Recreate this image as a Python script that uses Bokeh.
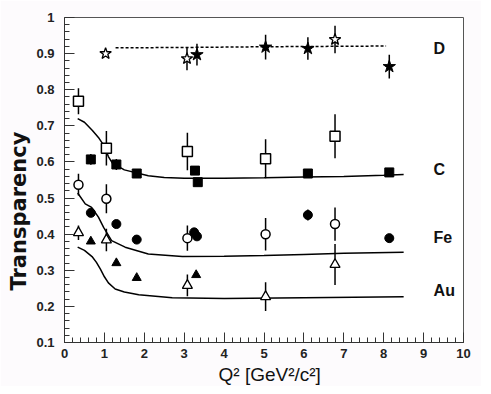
import numpy as np
from bokeh.plotting import figure
from bokeh.models import Label, FixedTicker, Title
from bokeh.embed import file_html
from bokeh.resources import INLINE

# ---- data ----
D_open_x = [1.03, 3.07, 6.78]
D_open_y = [0.900, 0.886, 0.939]
D_open_err = [0.0, 0.032, 0.038]
D_fill_x = [3.32, 5.04, 6.10, 8.14]
D_fill_y = [0.897, 0.918, 0.914, 0.864]
D_fill_err = [0.030, 0.034, 0.031, 0.033]
D_curve_x = [1.28, 3.0, 5.0, 8.06]
D_curve_y = [0.916, 0.917, 0.919, 0.921]

C_open_x = [0.35, 1.05, 3.08, 5.04, 6.78]
C_open_y = [0.768, 0.638, 0.629, 0.609, 0.671]
C_open_err = [0.036, 0.048, 0.052, 0.054, 0.061]
C_fill_x = [0.66, 1.30, 1.81, 3.27, 3.34, 6.10, 8.14]
C_fill_y = [0.607, 0.593, 0.568, 0.576, 0.544, 0.568, 0.571]
C_fill_err = [0.015, 0.015, 0.012, 0.012, 0.010, 0.010, 0.010]
C_curve_x = [0.33, 0.5, 0.7, 0.85, 1.0, 1.1, 1.2, 1.5, 2.1, 2.5, 3.0, 4.0, 5.0, 6.0, 7.0, 8.0, 8.5]
C_curve_y = [0.720, 0.710, 0.687, 0.668, 0.643, 0.615, 0.597, 0.578, 0.562, 0.557, 0.555, 0.555, 0.556, 0.558, 0.560, 0.563, 0.565]

Fe_open_x = [0.35, 1.05, 3.08, 5.04, 6.78]
Fe_open_y = [0.537, 0.498, 0.389, 0.400, 0.428]
Fe_open_err = [0.030, 0.040, 0.035, 0.045, 0.046]
Fe_fill_x = [0.66, 1.30, 1.81, 3.25, 3.32, 6.10, 8.14]
Fe_fill_y = [0.459, 0.428, 0.385, 0.405, 0.394, 0.453, 0.389]
Fe_fill_err = [0.010, 0.010, 0.008, 0.010, 0.010, 0.015, 0.008]
Fe_curve_x = [0.33, 0.52, 0.68, 0.85, 0.98, 1.18, 1.52, 2.1, 2.95, 4.0, 5.0, 6.0, 7.0, 8.5]
Fe_curve_y = [0.514, 0.484, 0.474, 0.447, 0.419, 0.382, 0.364, 0.345, 0.338, 0.339, 0.341, 0.344, 0.347, 0.350]

Au_open_x = [0.35, 1.05, 3.08, 5.04, 6.78]
Au_open_y = [0.404, 0.384, 0.258, 0.227, 0.316]
Au_open_err = [0.020, 0.031, 0.030, 0.040, 0.057]
Au_fill_x = [0.66, 1.30, 1.81, 3.30]
Au_fill_y = [0.380, 0.320, 0.279, 0.287]
Au_curve_x = [0.33, 0.5, 0.69, 0.8, 0.9, 1.0, 1.1, 1.27, 1.5, 1.86, 2.7, 4.0, 6.0, 8.5]
Au_curve_y = [0.364, 0.355, 0.338, 0.322, 0.303, 0.282, 0.265, 0.248, 0.240, 0.232, 0.224, 0.222, 0.224, 0.227]

nucleus_labels = ["D", "C", "Fe", "Au"]
nucleus_label_y = [0.914, 0.580, 0.392, 0.244]

x_ticks = [0, 1, 2, 3, 4, 5, 6, 7, 8, 9, 10]
y_ticks = [0.1, 0.2, 0.3, 0.4, 0.5, 0.6, 0.7, 0.8, 0.9, 1.0]

FONT = "Liberation Sans"

p = figure(width=481, height=386, x_range=(0, 10), y_range=(0.1, 1.0),
           output_backend="svg", toolbar_location=None,
           min_border_left=64, min_border_right=18, min_border_top=17, min_border_bottom=44)
p.background_fill_color = "white"
p.border_fill_color = "#fdfbfd"
p.xgrid.visible = False
p.ygrid.visible = False
p.outline_line_color = "#555555"
p.outline_line_width = 1

for ax in (p.xaxis[0], p.yaxis[0]):
    ax.major_tick_in = 10
    ax.major_tick_out = 0
    ax.minor_tick_in = 5
    ax.minor_tick_out = 0
    ax.axis_line_color = "#333333"
    ax.major_tick_line_color = "#333333"
    ax.minor_tick_line_color = "#333333"
    ax.major_label_text_font = FONT
    ax.major_label_text_font_style = "bold"
    ax.major_label_text_font_size = "13px"
    ax.major_label_text_color = "#222222"

p.xaxis.ticker = FixedTicker(ticks=x_ticks, minor_ticks=list(np.arange(0, 10.01, 0.2)))
p.yaxis.ticker = FixedTicker(ticks=y_ticks, minor_ticks=list(np.arange(0.1, 1.001, 0.02)))
p.xaxis.major_label_standoff = 6
p.yaxis.major_label_standoff = 10
p.yaxis.major_label_overrides = {1.0: "1"}

def errbars(x, y, e):
    y0 = [a - b for a, b in zip(y, e)]
    y1 = [a + b for a, b in zip(y, e)]
    p.segment(x0=x, y0=y0, x1=x, y1=y1, line_color="black", line_width=1.5)

# curves
p.line(D_curve_x, D_curve_y, line_color="black", line_width=1.5, line_dash="3 2")
p.line(C_curve_x, C_curve_y, line_color="black", line_width=1.5)
p.line(Fe_curve_x, Fe_curve_y, line_color="black", line_width=1.5)
p.line(Au_curve_x, Au_curve_y, line_color="black", line_width=1.5)

# error bars
errbars(D_open_x, D_open_y, D_open_err)
errbars(D_fill_x, D_fill_y, D_fill_err)
errbars(C_open_x, C_open_y, C_open_err)
errbars(C_fill_x, C_fill_y, C_fill_err)
errbars(Fe_open_x, Fe_open_y, Fe_open_err)
errbars(Fe_fill_x, Fe_fill_y, Fe_fill_err)
errbars(Au_open_x, Au_open_y, Au_open_err)

# markers
p.scatter(D_open_x, D_open_y, marker="star", size=12, fill_color="white", line_color="black", line_width=1.3)
p.scatter(D_fill_x, D_fill_y, marker="star", size=13, fill_color="black", line_color="black")
p.scatter(C_open_x, C_open_y, marker="square", size=10, fill_color="white", line_color="black", line_width=1.5)
p.scatter(C_fill_x, C_fill_y, marker="square", size=9, fill_color="black", line_color="black")
p.scatter(Fe_open_x, Fe_open_y, marker="circle", size=9, fill_color="white", line_color="black", line_width=1.5)
p.scatter(Fe_fill_x, Fe_fill_y, marker="circle", size=9, fill_color="black", line_color="black")
p.scatter(Au_open_x, Au_open_y, marker="triangle", size=10, fill_color="white", line_color="black", line_width=1.3)
p.scatter(Au_fill_x, Au_fill_y, marker="triangle", size=9, fill_color="black", line_color="black")

for t, yv in zip(nucleus_labels, nucleus_label_y):
    p.add_layout(Label(x=9.25, y=yv, text=t, text_font=FONT, text_font_style="bold",
                       text_font_size="16px", text_align="left", text_baseline="middle",
                       text_color="#111111"))

p.add_layout(Title(text="Transparency", align="left", offset=52,
                   text_font="DejaVu Sans", text_font_style="bold", text_font_size="21px",
                   text_color="#111111", standoff=5), "left")
p.add_layout(Title(text="Q² [GeV²/c²]", align="left", offset=154,
                   text_font=FONT, text_font_style="normal", text_font_size="19px",
                   text_color="#111111", standoff=2), "below")

open("out.html", "w").write(file_html(p, INLINE))
